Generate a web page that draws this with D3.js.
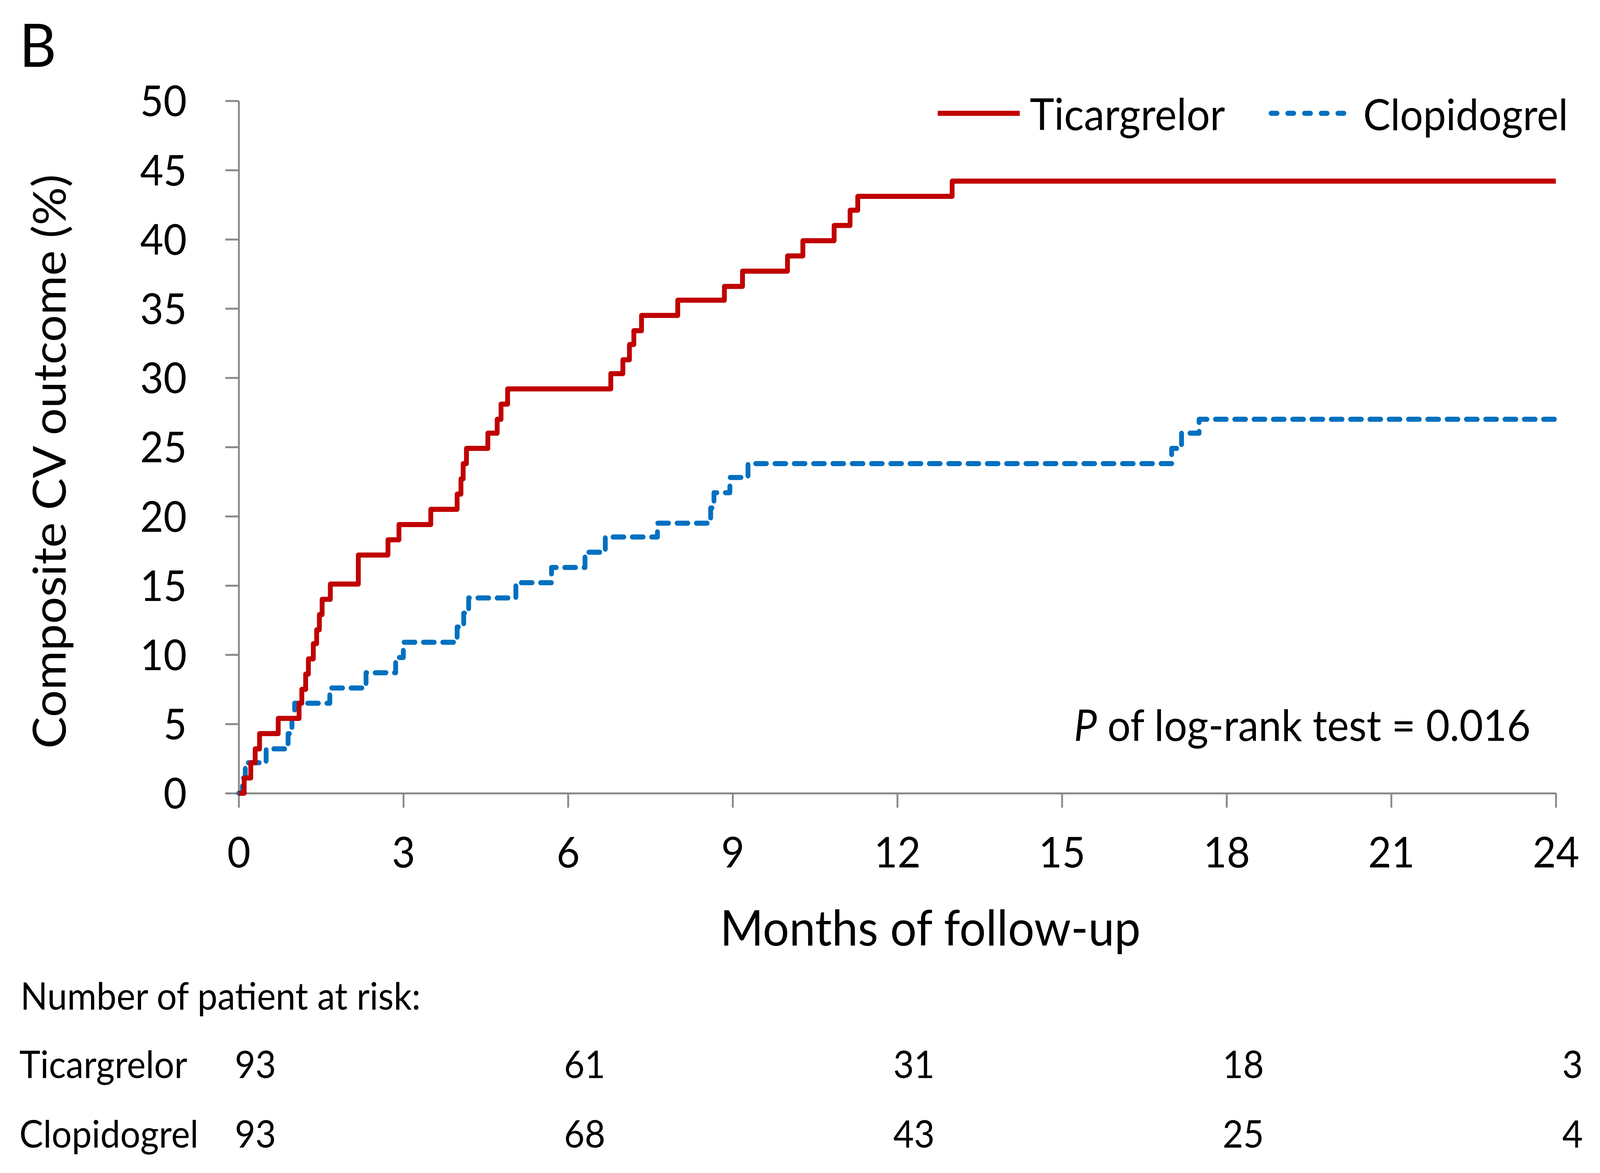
<!DOCTYPE html>
<html>
<head>
<meta charset="utf-8">
<script src="https://cdn.jsdelivr.net/npm/d3@7"></script>
<style>
  html, body { margin: 0; padding: 0; background: #fff; overflow: hidden; }
  svg { display: block; width: 100vw; height: 100vh; }
  text { font-family: Lato, "Open Sans", sans-serif; fill: #000; }
</style>
</head>
<body>
<svg id="chart" viewBox="0 0 4310 3002" preserveAspectRatio="none"></svg>
<script>
// Kaplan-Meier steps (months, cumulative %)
var ticaMonths = [0, 0.10, 0.22, 0.30, 0.38, 0.72, 1.10, 1.15, 1.22, 1.27, 1.36, 1.42, 1.47, 1.52, 1.67,
  2.18, 2.72, 2.92, 3.50, 3.98, 4.05, 4.09, 4.15, 4.54, 4.71, 4.78, 4.90, 6.78, 7.00, 7.12, 7.20, 7.34,
  8.00, 8.85, 9.18, 10.00, 10.28, 10.85, 11.14, 11.28, 13.00, 24];
var ticaPct = [0, 1.1, 2.2, 3.2, 4.3, 5.4, 6.5, 7.5, 8.6, 9.7, 10.8, 11.8, 12.9, 14.0, 15.1,
  17.2, 18.3, 19.4, 20.5, 21.6, 22.7, 23.8, 24.9, 26.0, 27.0, 28.1, 29.2, 30.3, 31.3, 32.4, 33.4, 34.5,
  35.6, 36.6, 37.7, 38.8, 39.9, 41.0, 42.1, 43.1, 44.2, 44.2];

var clopiMonths = [0, 0.07, 0.12, 0.50, 0.90, 0.97, 1.02, 1.66, 2.32, 2.86, 3.00, 3.98, 4.10, 4.19,
  5.05, 5.70, 6.31, 6.68, 7.63, 8.60, 8.66, 8.95, 9.28, 17.00, 17.18, 17.50, 24];
var clopiPct = [0, 1.1, 2.2, 3.2, 4.3, 5.4, 6.5, 7.6, 8.7, 9.8, 10.9, 12.0, 13.0, 14.1,
  15.2, 16.3, 17.4, 18.5, 19.5, 20.6, 21.7, 22.8, 23.8, 24.9, 26.0, 27.0, 27.0];

var xTicks = [0, 3, 6, 9, 12, 15, 18, 21, 24];
var yTicks = [0, 5, 10, 15, 20, 25, 30, 35, 40, 45, 50];

var riskMonths = [0, 6, 12, 18, 24];
var riskTica = [93, 61, 31, 18, 3];
var riskClopi = [93, 68, 43, 25, 4];

var seriesNames = ["Ticargrelor", "Clopidogrel"];
var red = "#C00000", blue = "#0070C0", axisGrey = "#8a8a8a";

var svg = d3.select("#chart");

var x = d3.scaleLinear().domain([0, 24]).range([643, 4191]);
var y = d3.scaleLinear().domain([0, 50]).range([2030, 258]);

// set a font size so that the text is w pixels wide
function fit(sel, w) {
  sel.style("font-size", "100px");
  var len = sel.node().getComputedTextLength();
  var fs = 100 * w / len;
  sel.style("font-size", fs + "px");
  return fs;
}

// axes
var yAxis = svg.append("g")
  .attr("transform", "translate(" + x(0) + ",0)")
  .call(d3.axisLeft(y).tickValues(yTicks).tickSize(36).tickSizeOuter(0).tickPadding(104));
var xAxis = svg.append("g")
  .attr("transform", "translate(0," + y(0) + ")")
  .call(d3.axisBottom(x).tickValues(xTicks).tickSize(37).tickSizeOuter(0));

svg.selectAll(".domain, .tick line").attr("stroke", axisGrey).attr("stroke-width", 5);
svg.selectAll(".tick text").attr("font-family", null).attr("fill", "#000");

var tickFs = fit(yAxis.select(".tick:last-of-type text"), 112) * 1.12;
yAxis.selectAll(".tick text").style("font-size", tickFs + "px").attr("dy", "0.36em");
xAxis.selectAll(".tick text").style("font-size", tickFs + "px").attr("y", 190).attr("dy", 0);

// curves
var line = d3.line()
  .x(function(d) { return x(d[0]); })
  .y(function(d) { return y(d[1]); })
  .curve(d3.curveStepAfter);

svg.append("path")
  .datum(clopiMonths.map(function(m, i) { return [m, clopiPct[i]]; }))
  .attr("d", line)
  .attr("fill", "none")
  .attr("stroke", blue)
  .attr("stroke-width", 13)
  .attr("stroke-dasharray", "29 23")
  .attr("stroke-linecap", "round")
  .attr("stroke-linejoin", "round");

svg.append("path")
  .datum(ticaMonths.map(function(m, i) { return [m, ticaPct[i]]; }))
  .attr("d", line)
  .attr("fill", "none")
  .attr("stroke", red)
  .attr("stroke-width", 13)
  .attr("stroke-linejoin", "round");

// legend
svg.append("line").attr("x1", 2526).attr("x2", 2747).attr("y1", 290).attr("y2", 290)
  .attr("stroke", red).attr("stroke-width", 13);
var l1 = svg.append("text").attr("x", 2774).attr("y", 333).text(seriesNames[0]);
fit(l1, 526);
svg.append("line").attr("x1", 3424).attr("x2", 3640).attr("y1", 290).attr("y2", 290)
  .attr("stroke", blue).attr("stroke-width", 13)
  .attr("stroke-dasharray", "16 29").attr("stroke-linecap", "round");
var l2 = svg.append("text").attr("x", 3672).attr("y", 333).text(seriesNames[1]);
fit(l2, 552);

// panel letter
var b = svg.append("text").attr("x", 52).attr("y", 171).text("B");
b.style("font-size", fit(b, 89) * 1.12 + "px");

// axis titles
var yt = svg.append("text")
  .attr("text-anchor", "middle")
  .attr("transform", "translate(177,1181) rotate(-90)")
  .text("Composite CV outcome (%)");
fit(yt, 1470);

var xt = svg.append("text")
  .attr("text-anchor", "middle")
  .attr("x", 2506).attr("y", 2420)
  .text("Months of follow-up");
fit(xt, 1133);

// p value
var pt = svg.append("text").attr("x", 2893).attr("y", 1896);
pt.append("tspan").attr("font-style", "italic").text("P");
pt.append("tspan").text(" of log-rank test = 0.016");
fit(pt, 1230);

// number at risk table
var hdr = svg.append("text").attr("x", 55).attr("y", 2584).text("Number of patient at risk:");
var riskFs = fit(hdr, 1078);

var rows = [
  { name: seriesNames[0], vals: riskTica, y: 2759 },
  { name: seriesNames[1], vals: riskClopi, y: 2937 }
];
rows.forEach(function(r) {
  svg.append("text").attr("x", 52).attr("y", r.y).style("font-size", riskFs + "px").text(r.name);
  svg.selectAll(null)
    .data(r.vals)
    .enter()
    .append("text")
    .attr("x", function(d, i) { return x(riskMonths[i]) + 45; })
    .attr("y", r.y)
    .attr("text-anchor", "middle")
    .style("font-size", riskFs + "px")
    .text(function(d) { return d; });
});
</script>
</body>
</html>
